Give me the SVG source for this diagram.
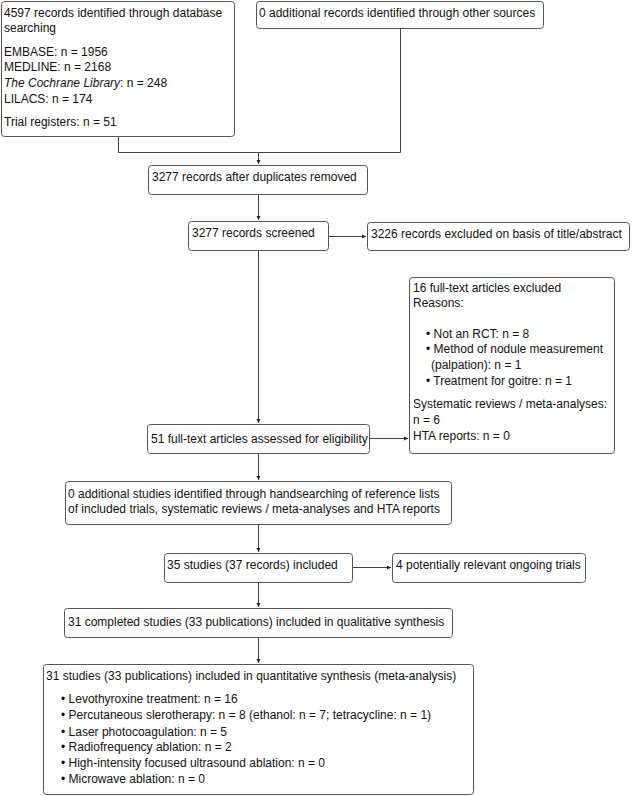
<svg xmlns="http://www.w3.org/2000/svg" width="632" height="796" viewBox="0 0 632 796">
<style>
.box{fill:#fff;stroke:#555;stroke-width:1}
text{font-family:"Liberation Sans",Arial,sans-serif;font-size:12px;fill:#111}
.ln{fill:none;stroke:#444;stroke-width:1}
</style>
<defs>
<marker id="ah" markerWidth="5" markerHeight="5" refX="4" refY="2.5" orient="auto" markerUnits="userSpaceOnUse">
<path d="M0,0.5 L4,2.5 L0,4.5 Z" fill="#222"/>
</marker>
</defs>
<rect width="632" height="796" fill="#fff"/>
<g id="connectors">
<path class="ln" d="M118.5,137 V152.5 H400.5 V29"/>
<path class="ln" d="M258.5,152.5 V164" marker-end="url(#ah)"/>
<path class="ln" d="M258.5,194 V220" marker-end="url(#ah)"/>
<path class="ln" d="M328,236.5 H366" marker-end="url(#ah)"/>
<path class="ln" d="M258.5,250 V423" marker-end="url(#ah)"/>
<path class="ln" d="M369,438.5 H408" marker-end="url(#ah)"/>
<path class="ln" d="M258.5,453 V480" marker-end="url(#ah)"/>
<path class="ln" d="M258.5,524 V552" marker-end="url(#ah)"/>
<path class="ln" d="M352,567.5 H391" marker-end="url(#ah)"/>
<path class="ln" d="M258.5,582 V607" marker-end="url(#ah)"/>
<path class="ln" d="M258.5,637 V663" marker-end="url(#ah)"/>
</g>
<g id="db">
<rect class="box" x="1.5" y="1.5" width="233" height="135" rx="3"/>
<text x="4" y="17">4597 records identified through database</text>
<text x="4" y="32">searching</text>
<text x="4" y="56">EMBASE: n = 1956</text>
<text x="4" y="71">MEDLINE: n = 2168</text>
<text x="4" y="87"><tspan font-style="italic">The Cochrane Library</tspan>: n = 248</text>
<text x="4" y="103">LILACS: n = 174</text>
<text x="4" y="126">Trial registers: n = 51</text>
</g>
<g id="other">
<rect class="box" x="256.5" y="1.5" width="287" height="27" rx="3"/>
<text x="259" y="17">0 additional records identified through other sources</text>
</g>
<g id="dup">
<rect class="box" x="148.5" y="165.5" width="219" height="29" rx="3"/>
<text x="152" y="181">3277 records after duplicates removed</text>
</g>
<g id="screened">
<rect class="box" x="188.5" y="221.5" width="140" height="29" rx="3"/>
<text x="192" y="237">3277 records screened</text>
</g>
<g id="excl1">
<rect class="box" x="367.5" y="222.5" width="262" height="28" rx="3"/>
<text x="371" y="238">3226 records excluded on basis of title/abstract</text>
</g>
<g id="excl2">
<rect class="box" x="409.5" y="277.5" width="205" height="176" rx="3"/>
<text x="413" y="292">16 full-text articles excluded</text>
<text x="413" y="307">Reasons:</text>
<text x="426" y="338">• Not an RCT: n = 8</text>
<text x="426" y="353">• Method of nodule measurement</text>
<text x="431" y="369">(palpation): n = 1</text>
<text x="426" y="385">• Treatment for goitre: n = 1</text>
<text x="413" y="408">Systematic reviews / meta-analyses:</text>
<text x="413" y="424">n = 6</text>
<text x="413" y="440">HTA reports: n = 0</text>
</g>
<g id="fulltext">
<rect class="box" x="147.5" y="424.5" width="222" height="29" rx="3"/>
<text x="151" y="443">51 full-text articles assessed for eligibility</text>
</g>
<g id="hand">
<rect class="box" x="65.5" y="481.5" width="386" height="43" rx="3"/>
<text x="68" y="498">0 additional studies identified through handsearching of reference lists</text>
<text x="68" y="513">of included trials, systematic reviews / meta-analyses and HTA reports</text>
</g>
<g id="included">
<rect class="box" x="164.5" y="553.5" width="188" height="29" rx="3"/>
<text x="167" y="569">35 studies (37 records) included</text>
</g>
<g id="ongoing">
<rect class="box" x="392.5" y="553.5" width="193" height="29" rx="3"/>
<text x="396" y="569">4 potentially relevant ongoing trials</text>
</g>
<g id="qual">
<rect class="box" x="64.5" y="608.5" width="388" height="29" rx="3"/>
<text x="68" y="626">31 completed studies (33 publications) included in qualitative synthesis</text>
</g>
<g id="quant">
<rect class="box" x="43.5" y="664.5" width="430" height="130" rx="3"/>
<text x="46" y="680">31 studies (33 publications) included in quantitative synthesis (meta-analysis)</text>
<text x="61" y="703">• Levothyroxine treatment: n = 16</text>
<text x="61" y="719">• Percutaneous slerotherapy: n = 8 (ethanol: n = 7; tetracycline: n = 1)</text>
<text x="61" y="736">• Laser photocoagulation: n = 5</text>
<text x="61" y="751">• Radiofrequency ablation: n = 2</text>
<text x="61" y="767">• High-intensity focused ultrasound ablation: n = 0</text>
<text x="61" y="783">• Microwave ablation: n = 0</text>
</g>
</svg>
